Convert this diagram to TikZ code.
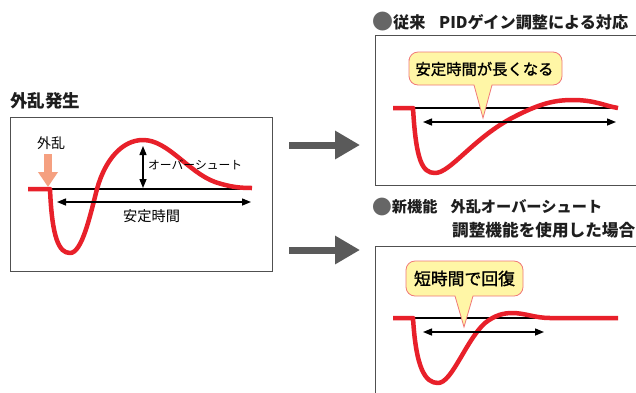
\documentclass[tikz,border=0pt]{standalone}
\usepackage{graphicx}
\usepackage{fontspec}
\setmainfont{Noto Sans CJK JP}
\newfontfamily\jpheavy[FakeBold=1.3]{Noto Sans CJK JP}
\usetikzlibrary{arrows.meta}
\definecolor{curvered}{HTML}{E8202A}
\definecolor{calloutfill}{HTML}{FFF6A6}
\definecolor{calloutline}{HTML}{F07878}
\definecolor{bigarrowgray}{HTML}{5A5A5A}
\definecolor{panelgray}{HTML}{505050}
\definecolor{distorange}{HTML}{F5A080}
\definecolor{titletext}{HTML}{1E1E1E}
\definecolor{dotgray}{HTML}{666666}
\newcommand\fitw[2]{\resizebox{#1}{!}{#2}}
\newcommand\bigdot{\textcolor{dotgray}{\raisebox{-0.12em}{\scalebox{1.3}{●}}}}
\tikzset{
  panel/.style={draw=panelgray, line width=1pt, fill=white, inner sep=0pt, anchor=north west},
  resp/.style={draw=curvered, line width=4.5pt, line join=round},
  baseline/.style={draw=black, line width=1.6pt},
  dimarrow/.style={draw=black, line width=1.4pt, {Triangle[length=9pt,width=7pt]}-{Triangle[length=9pt,width=7pt]}},
  bigarrow/.style={draw=bigarrowgray, line width=7pt, -{Triangle[length=25pt,width=27pt]}},
  callout/.style={draw=calloutline, line width=0.8pt, fill=calloutfill},
  title/.style={font=\bfseries\fontsize{16}{19}\selectfont, text=titletext, anchor=west, inner sep=0pt},
  lbl/.style={font=\fontsize{12.8}{15}\selectfont, inner sep=0pt},
  calltext/.style={font=\jpheavy\fontsize{15.5}{18}\selectfont, inner sep=0pt},
}
\begin{document}
\begin{tikzpicture}[x=1pt, y=-1pt]
\useasboundingbox (0,0) rectangle (636,392);

% ---------- left panel ----------
\node[title] (tA) at (10,101) {\fitw{70pt}{外乱発生}};
\node[panel, minimum width=262pt, minimum height=154pt] (boxA) at (10,117) {};
\draw[baseline] (50,189) -- (250,189);
\draw[resp] (28,189) -- (50,189)
  .. controls (52,238) and (59,253) .. (70,253)
  .. controls (82,253) and (90,216) .. (97,189)
  .. controls (105,160) and (122,140) .. (143,140)
  .. controls (168,140) and (188,172) .. (215,182)
  .. controls (230,187) and (240,188) .. (252,188);
\coordinate (osTop) at (143,146);
\coordinate (osBot) at (143,188);
\draw[dimarrow] (osTop) -- (osBot);
\node[lbl, anchor=west] (osLbl) at (148,165) {\fitw{94pt}{オーバーシュート}};
\coordinate (stL) at (57,202);
\coordinate (stR) at (251,202);
\draw[dimarrow] (stL) -- (stR);
\node[lbl] (stLbl) at (151.5,216) {\fitw{57pt}{安定時間}};
\node[lbl] (distLbl) at (51,143) {\fitw{28pt}{外乱}};
\coordinate (distTop) at (48,154);
\coordinate (distTip) at (48,187);
\draw[draw=distorange, line width=8pt, -{Triangle[length=15pt,width=19pt]}] (distTop) -- (distTip);

% ---------- big arrows ----------
\coordinate (a1s) at (289,145);
\coordinate (a1e) at (360,145);
\coordinate (a2s) at (289,250);
\coordinate (a2e) at (360,250);
\draw[bigarrow] (a1s) -- (a1e);
\draw[bigarrow] (a2s) -- (a2e);

% ---------- top right panel ----------
\node[title] (tB) at (372,22) {\fitw{256pt}{\bigdot 従来\hspace{0.85em}PIDゲイン調整による対応}};
\node[panel, minimum width=270pt, minimum height=150pt] (boxB) at (375,35) {};
\draw[baseline] (413,108) -- (617,108);
\draw[resp] (393,108) -- (413,108)
  .. controls (416,160) and (422,173) .. (435,173)
  .. controls (450,173) and (472,140) .. (510,119)
  .. controls (540,103) and (555,100) .. (573,100)
  .. controls (595,100) and (605,106) .. (618,108);
\draw[dimarrow] (423,122) coordinate (bL) -- (616,122) coordinate (bR);
\draw[callout] (409,68) [rounded corners=9pt] -- (409,52) -- (562,52) -- (562,85) [sharp corners] -- (492,85) -- (483,118) -- (474,85) [rounded corners=9pt] -- (409,85) -- cycle;
\node[calltext] (cB) at (484.5,69) {\fitw{138pt}{安定時間が長くなる}};

% ---------- bottom right panel ----------
\node[title] (tC1) at (372,207) {\fitw{230pt}{\bigdot 新機能\hspace{0.85em}外乱オーバーシュート}};
\node[title] (tC2) at (452,230) {\fitw{183pt}{調整機能を使用した場合}};
\node[panel, minimum width=270pt, minimum height=160pt] (boxC) at (375,246) {};
\draw[baseline] (413,318) -- (617,318);
\draw[resp] (393,318) -- (413,318)
  .. controls (416,368) and (425,383) .. (438,383)
  .. controls (452,383) and (466,340) .. (485,323)
  .. controls (495,315) and (504,313) .. (512,313)
  .. controls (525,313) and (535,318) .. (550,318) -- (618,318);
\draw[dimarrow] (423,332) coordinate (cL) -- (544,332) coordinate (cR);
\draw[callout] (406,278) [rounded corners=9pt] -- (406,261) -- (523,261) -- (523,296) [sharp corners] -- (473,296) -- (464,327) -- (455,296) [rounded corners=9pt] -- (406,296) -- cycle;
\node[calltext] (cC) at (464.5,278.5) {\fitw{101pt}{短時間で回復}};
\end{tikzpicture}
\end{document}
